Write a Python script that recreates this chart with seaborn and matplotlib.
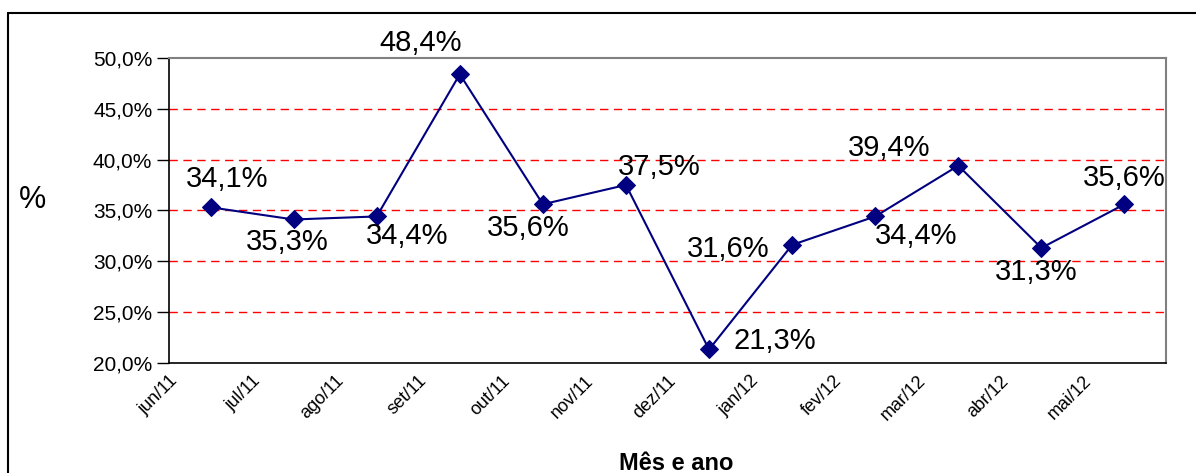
import numpy as np
import pandas as pd
import matplotlib
matplotlib.use("Agg")
import matplotlib.pyplot as plt
from matplotlib.lines import Line2D
import seaborn as sns

# data
months = ["jun/11", "jul/11", "ago/11", "set/11", "out/11", "nov/11",
          "dez/11", "jan/12", "fev/12", "mar/12", "abr/12", "mai/12"]
values = [35.3, 34.1, 34.4, 48.4, 35.6, 37.5, 21.3, 31.6, 34.4, 39.4, 31.3, 35.6]
labels = ["34,1%", "35,3%", "34,4%", "48,4%", "35,6%", "37,5%",
          "21,3%", "31,6%", "34,4%", "39,4%", "31,3%", "35,6%"]
y_ticks = [20, 25, 30, 35, 40, 45, 50]

# where Excel put each data label (pixels from the point)
label_offsets = [(17, 28), (-6, -23), (30, -20), (-39, 31), (-15, -24), (33, 18),
                 (66, 8), (-64, -4), (41, -20), (-69, 18), (-5, -24), (0, 26)]

sns.set_style("white")
plt.rcParams['font.family'] = ['Liberation Sans', 'DejaVu Sans']
plt.rcParams['xtick.color'] = 'black'
plt.rcParams['ytick.color'] = 'black'
plt.rcParams['text.color'] = 'black'

df = pd.DataFrame({"pos": np.arange(len(values)) + 0.5, "valor": values})

fig = plt.figure(figsize=(11.96, 4.73), dpi=100)
ax = fig.add_axes([169 / 1196, 1 - 362.7 / 473, (1166 - 169) / 1196, (362.7 - 58) / 473])

# red dashed grid lines
for y in y_ticks[1:-1]:
    ax.axhline(y, color="#ff0000", lw=1, ls=(0, (6, 4)), zorder=1)

sns.lineplot(data=df, x="pos", y="valor", ax=ax, color="#000080", lw=1.5,
             marker="D", markersize=9, markeredgecolor="#000080", zorder=3)

for x, y, txt, (dx, dy) in zip(df["pos"], df["valor"], labels, label_offsets):
    ax.annotate(txt, (x, y), xytext=(dx * 0.72, dy * 0.72), textcoords="offset points",
                ha="center", va="center", fontsize=21, color="black",
                annotation_clip=False)

ax.set_xlim(0, 12)
ax.set_ylim(20, 50)
ax.set_xticks(np.arange(12))
ax.set_xticklabels(months, rotation=45, ha="right", rotation_mode="anchor", fontsize=13)
ax.set_yticks(y_ticks)
ax.set_yticklabels([f"{v:.1f}%".replace(".", ",") for v in y_ticks], fontsize=15)
ax.tick_params(axis="x", direction="in", length=5, width=1, pad=7, colors="black")
ax.tick_params(axis="y", direction="out", length=9, width=1, pad=3, left=True, colors="black")
ax.set_xlabel("")
ax.set_ylabel("")

for side in ["left", "bottom"]:
    ax.spines[side].set_color("black")
    ax.spines[side].set_linewidth(1.2)
for side in ["top", "right"]:
    ax.spines[side].set_visible(True)
    ax.spines[side].set_color("#808080")
    ax.spines[side].set_linewidth(1.5)

fig.text(33 / 1196, 1 - 200 / 473, "%", fontsize=22, ha="center", va="center")
fig.text(676 / 1196, 1 - 463 / 473, "Mês e ano", fontsize=17, fontweight="bold",
         ha="center", va="center")

# outer chart frame
fig.add_artist(Line2D([8 / 1196, 8 / 1196], [0, 1 - 13 / 473], color="black", lw=1.5))
fig.add_artist(Line2D([8 / 1196, 1], [1 - 13 / 473, 1 - 13 / 473], color="black", lw=1.5))

fig.savefig("out.png", dpi=100)
